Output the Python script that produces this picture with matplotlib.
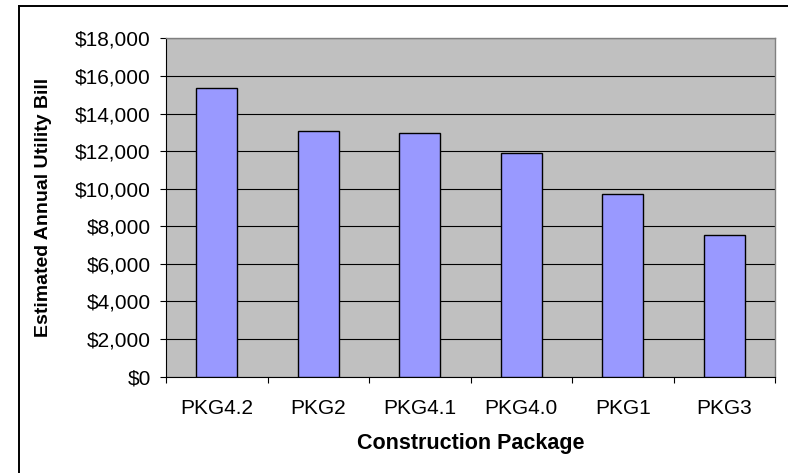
import matplotlib
matplotlib.use("Agg")
import matplotlib.pyplot as plt
from matplotlib.lines import Line2D
from matplotlib.ticker import FuncFormatter, FixedLocator
import numpy as np

# Data
packages = ["PKG4.2", "PKG2", "PKG4.1", "PKG4.0", "PKG1", "PKG3"]
utility_bill = [15350, 13060, 12980, 11890, 9700, 7530]
y_ticks = list(range(0, 18001, 2000))

BAR_COLOR = "#9999FF"
PLOT_BG = "#C0C0C0"

plt.rcParams["font.family"] = ["Liberation Sans", "DejaVu Sans"]

fig = plt.figure(figsize=(7.88, 4.73), dpi=100)
ax = fig.add_axes([166 / 788, 1 - 376.5 / 473,
                   (775 - 166) / 788, (376.5 - 38.5) / 473])
ax.set_facecolor(PLOT_BG)

x = np.arange(len(packages))
ax.bar(x, utility_bill, width=0.4, color=BAR_COLOR,
       edgecolor="black", linewidth=1.0, zorder=3)

ax.set_xlim(-0.5, len(packages) - 0.5)
ax.set_ylim(0, 18000)
ax.set_yticks(y_ticks)
ax.yaxis.set_major_formatter(FuncFormatter(lambda v, p: "${:,.0f}".format(v)))
ax.yaxis.grid(True, color="black", linewidth=0.8, zorder=1)
ax.set_axisbelow(True)

# category labels at centres, tick marks at the boundaries
ax.set_xticks(x)
ax.set_xticklabels(packages)
ax.xaxis.set_minor_locator(FixedLocator(np.arange(-0.5, len(packages), 1.0)))
ax.tick_params(axis="x", which="major", length=0, pad=16, labelsize=15)
ax.tick_params(axis="x", which="minor", length=4, width=0.8, direction="out")
ax.tick_params(axis="y", which="major", length=4, width=0.8, pad=7,
               direction="out", labelsize=15)

for side in ["top", "right"]:
    ax.spines[side].set_color("#808080")
    ax.spines[side].set_linewidth(1.0)
for side in ["left", "bottom"]:
    ax.spines[side].set_color("black")
    ax.spines[side].set_linewidth(0.8)

ax.set_xlabel("Construction Package", fontsize=15.5, fontweight="bold", labelpad=11)
ax.set_ylabel("Estimated Annual Utility Bill", fontsize=14, fontweight="bold")
ax.yaxis.set_label_coords((52 - 166) / (775 - 166), 0.5)

# outer chart border (only top and left fall inside the picture)
bx = 19 / 788
by = 1 - 6 / 473
fig.add_artist(Line2D([bx, 1.0], [by, by], color="black", linewidth=1.4,
                      transform=fig.transFigure))
fig.add_artist(Line2D([bx, bx], [0.0, by], color="black", linewidth=1.4,
                      transform=fig.transFigure))

plt.savefig("out.png", dpi=100)
